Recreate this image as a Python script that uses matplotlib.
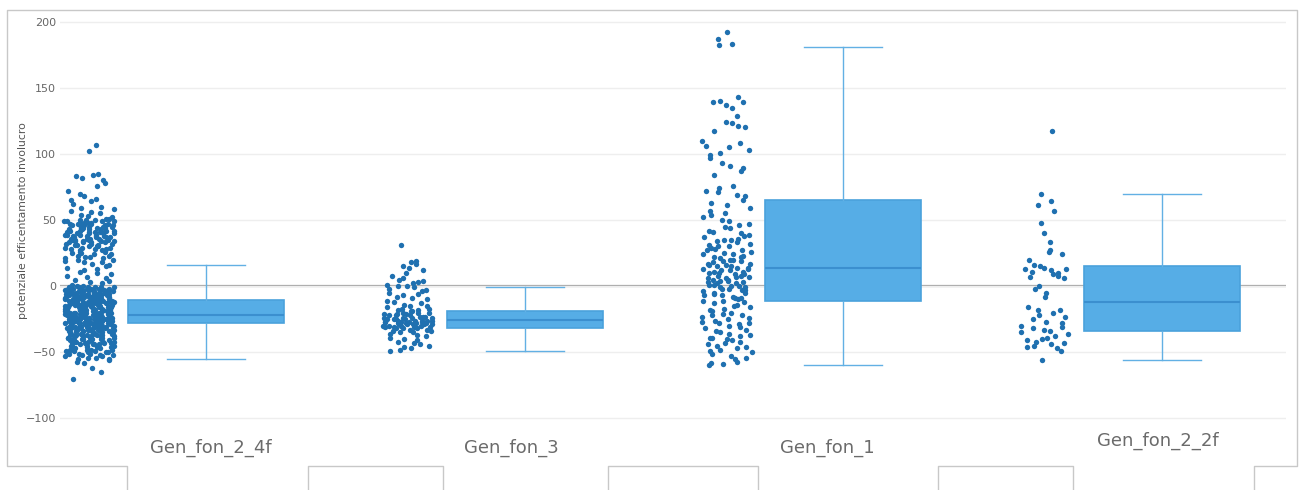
import numpy as np
import matplotlib
matplotlib.use("Agg")
import matplotlib.pyplot as plt
from matplotlib.lines import Line2D
from matplotlib.transforms import blended_transform_factory

# categories, left to right
categories = ["Gen_fon_2_4f", "Gen_fon_3", "Gen_fon_1", "Gen_fon_2_2f"]

# box statistics
whis_low = [-55, -49, -60, -55.6]
q1 = [-28, -31.5, -11.3, -33.6]
median = [-22, -25.5, 13.5, -11.8]
q3 = [-10.5, -19, 65.4, 15.5]
whis_high = [16, -0.5, 181, 69.4]

# all points shown next to each box
gen_fon_2_4f = [
    107, 102, 85, 84, 83, 82, 80, 78, 76, 72, 70, 68, 66, 65, 64, 62, 60, 59, 58, 57, 56, 55, 54, 53,
    52, 51, 51, 50, 50, 50, 49, 49, 49, 49, 48, 48, 48, 48, 47, 47, 47, 47, 46, 46, 46, 46,
    45, 45, 45, 45, 44, 44, 44, 44, 43, 43, 43, 43, 42, 42, 42, 42, 41, 41, 41, 41, 40, 40, 40, 40,
    39, 39, 39, 39, 38, 38, 38, 38, 37, 37, 37, 37, 36, 36, 36, 36, 35, 35, 35, 35, 34, 34, 34, 34,
    33, 33, 33, 33, 32, 32, 32, 31, 31, 31, 30, 30, 30, 29, 29, 29, 28, 28, 28, 27, 27, 26, 26, 25, 25,
    24, 24, 23, 23, 22, 22, 21, 21, 20, 20, 19, 18, 18, 17, 16, 15, 14, 13, 12, 11, 10, 9, 8, 7, 6,
    5, 4, 3, 2, 1, 0, 0,
    -1, -1, -1, -1, -1, -1, -2, -2, -2, -2, -2, -2, -2, -3, -3, -3, -3, -3, -3, -3,
    -4, -4, -4, -4, -4, -4, -4, -5, -5, -5, -5, -5, -5, -5, -6, -6, -6, -6, -6, -6, -6,
    -7, -7, -7, -7, -7, -7, -7, -8, -8, -8, -8, -8, -8, -8, -9, -9, -9, -9, -9, -9, -9,
    -10, -10, -10, -10, -10, -10, -10, -11, -11, -11, -11, -11, -11, -11, -12, -12, -12, -12, -12, -12, -12,
    -13, -13, -13, -13, -13, -13, -13, -14, -14, -14, -14, -14, -14, -14, -15, -15, -15, -15, -15, -15, -15,
    -16, -16, -16, -16, -16, -16, -16, -17, -17, -17, -17, -17, -17, -17, -18, -18, -18, -18, -18, -18, -18,
    -19, -19, -19, -19, -19, -19, -19, -20, -20, -20, -20, -20, -20, -20, -21, -21, -21, -21, -21, -21, -21,
    -22, -22, -22, -22, -22, -22, -22, -23, -23, -23, -23, -23, -23, -23, -24, -24, -24, -24, -24, -24, -24,
    -25, -25, -25, -25, -25, -25, -25, -26, -26, -26, -26, -26, -26, -26, -27, -27, -27, -27, -27, -27, -27,
    -28, -28, -28, -28, -28, -28, -28, -29, -29, -29, -29, -29, -29, -29, -30, -30, -30, -30, -30, -30, -30,
    -31, -31, -31, -31, -31, -31, -31, -32, -32, -32, -32, -32, -32, -32, -33, -33, -33, -33, -33, -33,
    -34, -34, -34, -34, -34, -34, -35, -35, -35, -35, -35, -35, -36, -36, -36, -36, -36, -36,
    -37, -37, -37, -37, -37, -38, -38, -38, -38, -38, -39, -39, -39, -39, -39, -40, -40, -40, -40, -40,
    -41, -41, -41, -41, -41, -42, -42, -42, -42, -42, -43, -43, -43, -43, -44, -44, -44, -44,
    -45, -45, -45, -45, -46, -46, -46, -46, -47, -47, -47, -48, -48, -48, -48, -49, -49, -49,
    -50, -50, -50, -51, -51, -51, -52, -52, -52, -53, -53, -54, -54, -55, -55, -56, -57, -58,
    -62, -65, -70,
]
gen_fon_3 = [
    31, 19, 18, 17, 15, 14, 12, 10, 8, 6, 5, 4, 3, 2, 1, 0, 0, -1, -2, -3, -4, -5, -6, -7, -8,
    -9, -10, -11, -12, -13, -14, -15, -15, -16, -17, -17, -18, -18, -19, -19, -20, -20, -20,
    -21, -21, -21, -22, -22, -22, -23, -23, -23, -24, -24, -24, -24, -25, -25, -25, -25,
    -26, -26, -26, -26, -26, -27, -27, -27, -27, -27, -28, -28, -28, -28, -28, -29, -29, -29, -29, -29,
    -30, -30, -30, -30, -31, -31, -31, -31, -32, -32, -32, -33, -33, -34, -34, -35, -35,
    -36, -37, -38, -39, -40, -41, -42, -43, -44, -45, -46, -47, -48, -49,
]
gen_fon_1 = [
    192, 187, 183, 182,
    143, 140, 139, 139, 137, 135, 129, 124, 123, 121, 120,
    117, 110, 108, 106, 105, 103, 101, 99, 97, 93, 91, 89, 87, 84,
    76, 74, 72, 71, 69, 68, 65, 63, 61, 59, 57, 55, 54, 52,
    50, 49, 47, 46, 45, 44, 42, 41, 40, 39, 38, 37, 36, 35, 35,
    34, 33, 32, 31, 30, 30, 29, 28, 27, 27, 26, 25, 24, 24, 23, 22, 22, 21, 20, 20,
    19, 19, 18, 17, 17, 16, 16, 15, 15, 14, 14, 13, 13, 12, 12, 11, 11, 10, 10, 9, 9, 8, 8,
    7, 7, 6, 6, 5, 5, 4, 4, 3, 3, 2, 2, 1, 1, 0, 0,
    -1, -1, -2, -2, -3, -3, -4, -5, -5, -6, -7, -7, -8, -9, -9, -10, -11, -11, -12, -13, -14, -15,
    -16, -17, -18, -19, -20, -21, -22, -22, -23, -24, -25, -26, -27, -28, -28, -29, -30, -31, -32, -33,
    -34, -35, -36, -37, -38, -39, -39, -40, -41, -42, -43, -44, -45, -46, -47, -48,
    -49, -50, -51, -53, -54, -55, -57, -58, -59, -60,
]
gen_fon_2_2f = [
    117, 70, 64, 61, 57, 48, 40, 33, 27, 26, 24, 20, 16, 15, 14, 13, 13, 12, 11, 10, 9, 8, 7, 6,
    0, -2, -5, -8, -16, -18, -18, -20, -22, -23, -25, -27, -28, -30, -31, -32, -33, -34, -35, -36,
    -38, -39, -40, -41, -42, -43, -44, -45, -46, -47, -49, -56,
]
points = [gen_fon_2_4f, gen_fon_3, gen_fon_1, gen_fon_2_2f]

# colours
box_fill = "#56ade6"
box_edge = "#4aa2dc"
median_col = "#3b8fcf"
whisker_col = "#62b0e4"
point_col = "#1f70b0"
frame_col = "#c8c8c8"


def jitter(vals, half_width, seed):
    # plotly-style jitter: spread scales with the local density of points
    v = np.sort(np.asarray(vals, dtype=float))
    n = len(v)
    span = v.max() - v.min()
    diffs = np.diff(v)
    min_sp = diffs[diffs > 0].min() if np.any(diffs > 0) else 1.0
    fac = np.zeros(n)
    for i in range(n):
        i0 = max(0, i - 5)
        i1 = min(n - 1, i + 5)
        f = np.sqrt(0.01 * span * (i1 - i0) / (v[i1] - v[i0] + min_sp))
        fac[i] = min(f, 1.0)
    fac = fac / fac.max()
    # repeatable scrambled offsets; each run of 6 neighbours covers the full width
    k = np.arange(n)
    h1 = (np.sin(k * 12.9898 + seed * 78.233) * 43758.5453) % 1.0
    h2 = (np.sin(k * 39.3468 + seed * 11.135) * 24634.6345) % 1.0
    r = np.zeros(n)
    for start in range(0, n, 6):
        idx = k[start:start + 6]
        order = np.argsort(h1[idx])
        r[idx[order]] = (np.arange(len(idx)) + h2[idx]) / len(idx)
    return v, fac * half_width * 2 * (r - 0.5)


fig = plt.figure(figsize=(13, 4.9), dpi=100)
W, H = 1300, 490
ax = fig.add_axes([60 / W, 1 - 430 / H, (1286 - 60) / W, (430 - 12) / H])

pos = np.arange(len(categories))

# gridlines and zero line
ax.set_ylim(-108.8, 207.3)
ax.set_xlim(-0.458, 3.389)
ax.set_yticks([-100, -50, 0, 50, 100, 150, 200])
ax.grid(axis="y", color="#eeeeee", linewidth=1, zorder=0)
ax.axhline(0, color="#a0a0a0", linewidth=1.6, zorder=1)

# boxes
stats = []
for i in range(len(categories)):
    stats.append({"whislo": whis_low[i], "q1": q1[i], "med": median[i],
                  "q3": q3[i], "whishi": whis_high[i], "label": categories[i]})
ax.bxp(stats, positions=pos, widths=0.49, capwidths=0.245, showfliers=False,
       patch_artist=True,
       boxprops=dict(facecolor=box_fill, edgecolor=box_edge, linewidth=1.2),
       medianprops=dict(color=median_col, linewidth=1.5),
       whiskerprops=dict(color=whisker_col, linewidth=1.0),
       capprops=dict(color=whisker_col, linewidth=1.0),
       zorder=2)

# points to the left of each box
for i, vals in enumerate(points):
    yv, dx = jitter(vals, 0.078, i + 1)
    ax.scatter(pos[i] - 0.366 + dx, yv, s=15, color=point_col, linewidths=0, zorder=3)

# axis styling
for sp in ax.spines.values():
    sp.set_visible(False)
ax.set_xticks([])
ax.tick_params(axis="y", length=0, pad=3, labelsize=8, labelcolor="#666666")
ax.set_ylabel("potenziale efficentamento involucro", fontsize=7.8, color="#555555")
ax.yaxis.set_label_coords((28 - 60) / (1286 - 60), 0.5)

# category labels under the plot
trans = blended_transform_factory(ax.transData, fig.transFigure)
label_dx = [0.016, -0.041, -0.05, -0.013]
label_y = [448, 448, 448, 441]
for i, name in enumerate(categories):
    ax.text(pos[i] + label_dx[i], 1 - label_y[i] / H, name, transform=trans,
            ha="center", va="center", fontsize=13, color="#6b6b6b")


# outline of the surrounding frame
def px_line(xs, ys):
    fig.add_artist(Line2D([x / W for x in xs], [1 - y / H for y in ys],
                          color=frame_col, linewidth=1, transform=fig.transFigure))


px_line([127, 127, 7, 7, 1297, 1297, 1254, 1254], [490, 466, 466, 10, 10, 466, 466, 490])
for a, b in [(308, 443), (608, 758), (938, 1073)]:
    px_line([a, a, b, b], [490, 466, 466, 490])

fig.savefig("out.png", dpi=100)
